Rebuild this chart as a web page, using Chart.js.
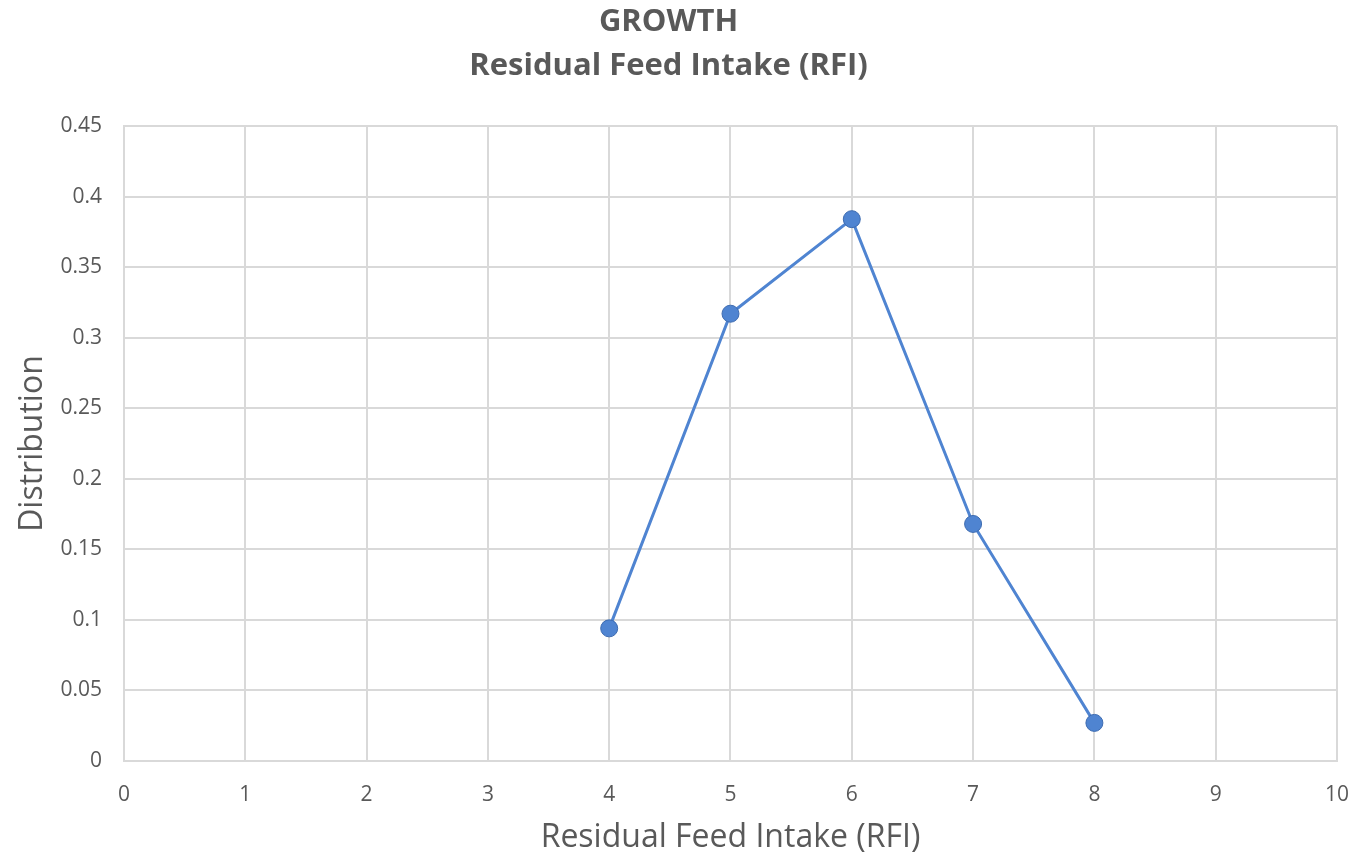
<!DOCTYPE html>
<html>
<head>
<meta charset="utf-8">
<script src="https://cdn.jsdelivr.net/npm/chart.js@4"></script>
<style>
  html, body { margin: 0; padding: 0; background: #fff; }
  #wrap { width: 1370px; height: 857px; }
</style>
</head>
<body>
<div id="wrap"><canvas id="rfiChart"></canvas></div>
<script>
// values
var rfiValues = [4, 5, 6, 7, 8];
var distribution = [0.094, 0.317, 0.384, 0.168, 0.027];
var titleLines = ['GROWTH', 'Residual Feed Intake (RFI)'];

var textGrey = '#595959';
var gridGrey = '#d9d9d9';
var lineBlue = '#4f84d1';

var points = rfiValues.map((x, i) => ({ x: x, y: distribution[i] }));

var ctx = document.getElementById('rfiChart').getContext('2d');
new Chart(ctx, {
    type: 'scatter',
    data: {
        datasets: [{
            data: points,
            showLine: true,
            borderColor: lineBlue,
            borderWidth: 3,
            backgroundColor: lineBlue,
            pointBorderColor: '#3d6bb0',
            pointBorderWidth: 1,
            pointRadius: 8.5,
            pointHoverRadius: 8.5
        }]
    },
    options: {
        responsive: true,
        maintainAspectRatio: false,
        animation: false,
        layout: { padding: { left: 0, right: 33, top: 0, bottom: 0 } },
        plugins: {
            legend: { display: false },
            tooltip: { enabled: false },
            title: {
                display: true,
                text: titleLines,
                color: textGrey,
                font: { family: 'Open Sans', size: 31, weight: 'bold', lineHeight: 1.42 },
                padding: { top: 0, bottom: 38 }
            }
        },
        scales: {
            x: {
                type: 'linear',
                min: 0,
                max: 10,
                ticks: {
                    stepSize: 1,
                    color: textGrey,
                    font: { family: 'Open Sans', size: 21 },
                    padding: 21
                },
                grid: { color: gridGrey, lineWidth: 2, drawTicks: false },
                border: { color: gridGrey, width: 2 },
                title: {
                    display: true,
                    text: 'Residual Feed Intake (RFI)',
                    color: textGrey,
                    font: { family: 'Open Sans', size: 32 },
                    padding: { top: 4, bottom: 0 }
                },
                afterFit: function (scale) { scale.height = 96; }
            },
            y: {
                min: 0,
                max: 0.45,
                ticks: {
                    stepSize: 0.05,
                    color: textGrey,
                    font: { family: 'Open Sans', size: 21 },
                    padding: 22,
                    callback: v => String(+v.toFixed(2))
                },
                grid: { color: gridGrey, lineWidth: 2, drawTicks: false },
                border: { color: gridGrey, width: 2 },
                title: {
                    display: true,
                    text: 'Distribution',
                    color: textGrey,
                    font: { family: 'Open Sans', size: 32 },
                    padding: { top: 14, bottom: 0 }
                },
                afterFit: function (scale) { scale.width = 124; }
            }
        }
    }
});
</script>
</body>
</html>
